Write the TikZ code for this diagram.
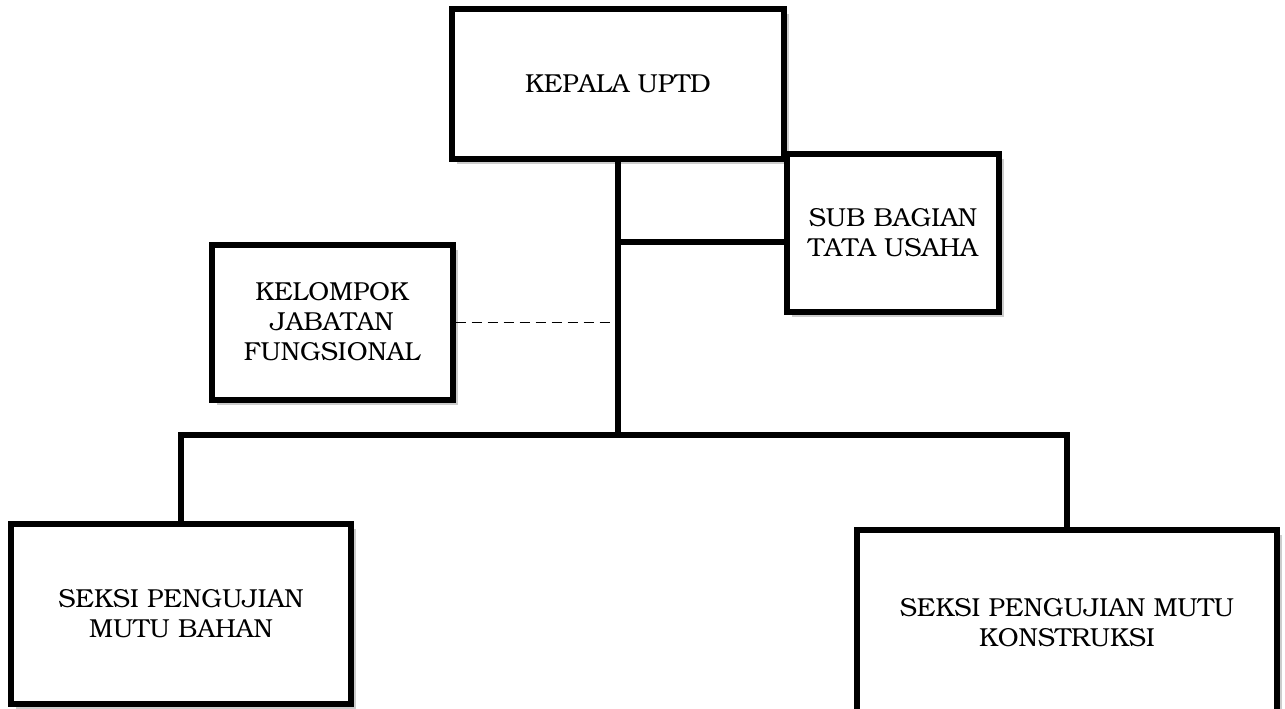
\documentclass[tikz,border=0pt]{standalone}
\usepackage[T1]{fontenc}
\usepackage{bookman}
\usetikzlibrary{shadows}

\tikzset{every picture/.style={line width=6pt}}
\tikzset{
  unitbox/.style={draw=black, fill=white, rectangle, align=center, inner sep=0pt,
    font=\fontsize{26}{30}\selectfont,
    drop shadow={shadow xshift=5pt, shadow yshift=-5pt, fill=black!20, opacity=1}},
  link/.style={line width=6pt, line cap=rect},
  staffline/.style={line width=1pt, dash pattern=on 10pt off 6pt}
}

\begin{document}
\begin{tikzpicture}[x=1pt,y=1pt,yscale=-1,xscale=1]
    \useasboundingbox (0,0) rectangle (1285,709);

    %Shape: Rectangle [id:kepala]
    \node [unitbox, minimum width=332pt, minimum height=150pt] (kepala) at (618,84) {KEPALA UPTD};
    %Shape: Rectangle [id:tu]
    \node [unitbox, minimum width=212pt, minimum height=158pt] (tu) at (893,233) {SUB BAGIAN\\TATA USAHA};
    %Shape: Rectangle [id:jf]
    \node [unitbox, minimum width=241pt, minimum height=155pt] (jf) at (332,322) {KELOMPOK\\JABATAN\\FUNGSIONAL};
    %Shape: Rectangle [id:bahan]
    \node [unitbox, minimum width=340pt, minimum height=180pt] (bahan) at (181,614) {SEKSI PENGUJIAN\\MUTU BAHAN};
    %Shape: Rectangle [id:konstruksi]
    \node [unitbox, minimum width=420pt, minimum height=186pt] (konstruksi) at (1067,623) {SEKSI PENGUJIAN MUTU\\KONSTRUKSI};

    \coordinate (bus) at (618,435);
    \coordinate (tujoin) at ([yshift=9pt]tu.west);

    %Straight Lines [id:trunk]
    \draw [link] (kepala.south) -- (bus);
    %Straight Lines [id:to-tu]
    \draw [link] (tujoin -| kepala.south) -- (tujoin);
    %Straight Lines [id:to-jf]
    \draw [staffline] (jf.east) -- (jf.east -| kepala.south);
    %Straight Lines [id:bus]
    \draw [link] (bahan.north |- bus) -- (konstruksi.north |- bus);
    %Straight Lines [id:to-bahan]
    \draw [link] (bahan.north |- bus) -- (bahan.north);
    %Straight Lines [id:to-konstruksi]
    \draw [link] (konstruksi.north |- bus) -- (konstruksi.north);

\end{tikzpicture}
\end{document}
